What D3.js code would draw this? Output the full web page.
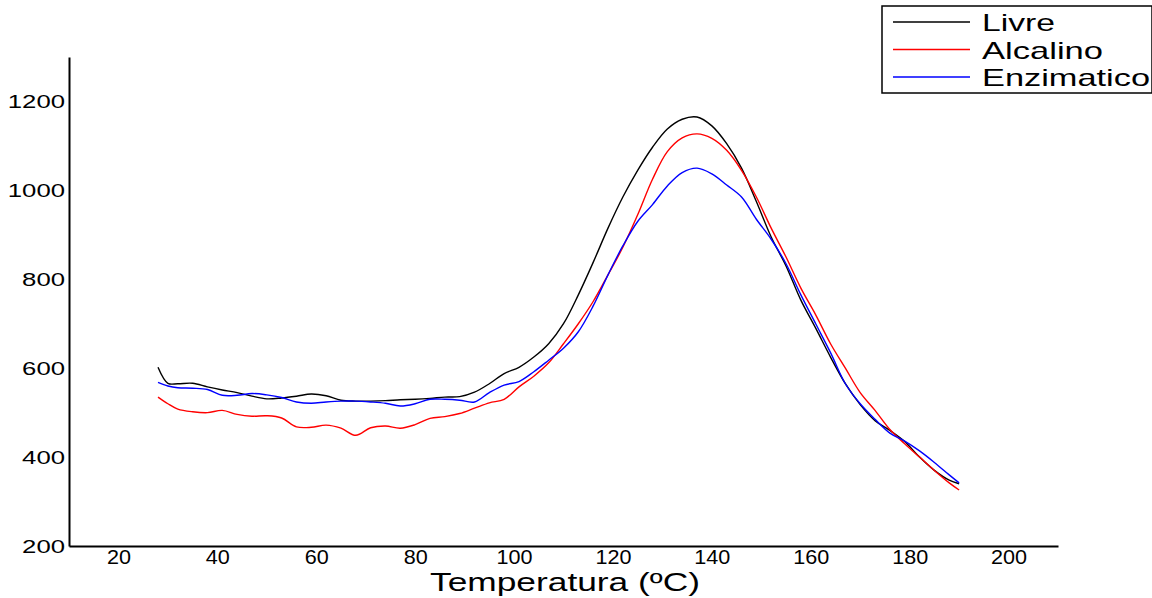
<!DOCTYPE html>
<html>
<head>
<meta charset="utf-8">
<script src="https://cdn.jsdelivr.net/npm/d3@7"></script>
<style>
  body { margin: 0; background: #fff; }
  text { font-family: Arial, "Liberation Sans", sans-serif; }
</style>
</head>
<body>
<svg id="chart" width="1152" height="598"></svg>
<script>
// temperatures (ºC) where the curves were read
const temps = [28, 30, 32, 35, 38, 41, 44, 47, 50, 53, 56, 59, 62, 65, 68, 71, 74, 77, 80, 83,
  86, 89, 92, 95, 98, 101, 104, 107, 110, 113, 116, 119, 122, 125, 128, 131, 134, 137, 140, 143,
  146, 149, 152, 155, 158, 161, 164, 167, 170, 173, 176, 179, 182, 185, 188, 190];

const livre = [602, 566, 565, 566, 558, 551, 545, 537, 531, 533, 537, 542, 538, 528, 526, 526, 527, 529, 530, 532,
  535, 536, 546, 565, 588, 602, 625, 655, 700, 765, 838, 915, 985, 1045, 1097, 1138, 1160, 1165, 1145, 1105,
  1050, 975, 895, 830, 753, 690, 625, 565, 518, 482, 460, 435, 400, 370, 348, 340];

const alcalino = [535, 520, 508, 502, 500, 505, 496, 492, 493, 488, 468, 467, 472, 465, 449, 466, 470, 465, 473, 487,
  491, 498, 510, 522, 530, 558, 582, 612, 655, 700, 750, 810, 872, 945, 1025, 1087, 1118, 1127, 1117, 1090,
  1045, 985, 915, 850, 780, 720, 655, 600, 545, 505, 462, 430, 400, 370, 342, 326];

const enzimatico = [568, 560, 556, 555, 552, 539, 539, 543, 540, 534, 524, 521, 524, 526, 526, 524, 521, 515, 520, 530,
  530, 528, 524, 545, 562, 570, 592, 618, 645, 682, 740, 810, 875, 930, 968, 1010, 1040, 1050, 1037, 1012,
  985, 935, 890, 835, 765, 700, 635, 565, 520, 485, 454, 436, 414, 388, 360, 342];

const seriesNames = ["Livre", "Alcalino", "Enzimatico"];
const seriesColors = ["#000000", "#ff0000", "#0000ff"];
const xTicks = [20, 40, 60, 80, 100, 120, 140, 160, 180, 200];
const yTicks = [200, 400, 600, 800, 1000, 1200];

const svg = d3.select("#chart");

const x = d3.scaleLinear().domain([10, 210]).range([69, 1058]);
const y = d3.scaleLinear().domain([200, 1300]).range([546, 57]);

// axes (no tick marks, only labels)
const xAxis = d3.axisBottom(x).tickValues(xTicks).tickFormat(d3.format("d")).tickSize(0).tickPadding(4);
const yAxis = d3.axisLeft(y).tickValues(yTicks).tickFormat(d3.format("d")).tickSize(0).tickPadding(4);

const gx = svg.append("g").attr("transform", "translate(0,546)").call(xAxis);
gx.select(".domain").attr("stroke", "#000").attr("stroke-width", 2);
gx.selectAll("text").attr("font-size", 20).attr("fill", "#000")
  .attr("font-family", "Arial, 'Liberation Sans', sans-serif")
  .attr("textLength", d => String(d).length * 12)
  .attr("lengthAdjust", "spacingAndGlyphs");

const gy = svg.append("g").attr("transform", "translate(69,0)").call(yAxis);
gy.select(".domain").attr("stroke", "#000").attr("stroke-width", 2);
gy.selectAll("text").attr("font-size", 19).attr("fill", "#000")
  .attr("font-family", "Arial, 'Liberation Sans', sans-serif")
  .attr("textLength", d => String(d).length * 14.3)
  .attr("lengthAdjust", "spacingAndGlyphs");

svg.append("text")
  .attr("x", 430).attr("y", 591)
  .attr("font-size", 26)
  .attr("textLength", 270)
  .attr("lengthAdjust", "spacingAndGlyphs")
  .text("Temperatura (ºC)");

// curves
const line = d3.line()
  .x((d, i) => x(temps[i]))
  .y(d => y(d))
  .curve(d3.curveCatmullRom.alpha(0.5));

[livre, alcalino, enzimatico].forEach((vals, k) => {
  svg.append("path")
    .attr("d", line(vals))
    .attr("fill", "none")
    .attr("stroke", seriesColors[k])
    .attr("stroke-width", 1.4);
});

// legend
const legend = svg.append("g");
legend.append("rect")
  .attr("x", 882).attr("y", 6).attr("width", 270).attr("height", 87)
  .attr("fill", "#fff").attr("stroke", "#000").attr("stroke-width", 1.5);

const legendWidths = [73, 121, 168];
seriesNames.forEach((name, k) => {
  const ly = 22 + k * 27.5;
  legend.append("line")
    .attr("x1", 893).attr("x2", 970).attr("y1", ly).attr("y2", ly)
    .attr("stroke", seriesColors[k]).attr("stroke-width", 1.4);
  legend.append("text")
    .attr("x", 982).attr("y", ly + 9)
    .attr("font-size", 24)
    .attr("textLength", legendWidths[k])
    .attr("lengthAdjust", "spacingAndGlyphs")
    .text(name);
});
</script>
</body>
</html>
